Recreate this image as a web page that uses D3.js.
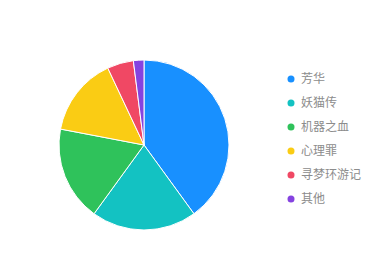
<!DOCTYPE html>
<html>
<head>
<meta charset="utf-8">
<script src="https://cdn.jsdelivr.net/npm/d3@7"></script>
<style>
  body { margin: 0; background: #fff; }
  svg { display: block; font-family: "Noto Sans CJK SC", "Noto Sans", sans-serif; }
</style>
</head>
<body>
<div id="chart"></div>
<script>
// film share data
var categories = ["芳华", "妖猫传", "机器之血", "心理罪", "寻梦环游记", "其他"];
var values = [40, 20, 18, 15, 5, 2];
var colors = ["#1890FF", "#13C2C2", "#2FC25B", "#FACC14", "#F04864", "#8543E0"];

var width = 375, height = 260;
var svg = d3.select("#chart").append("svg")
  .attr("width", width)
  .attr("height", height);

var data = categories.map(function(c, i) { return {name: c, value: values[i]}; });

var pie = d3.pie().sort(null).value(function(d) { return d.value; });
var arc = d3.arc().innerRadius(0).outerRadius(85);

var g = svg.append("g").attr("transform", "translate(144,145)");

g.selectAll("path")
  .data(pie(data))
  .enter()
  .append("path")
    .attr("d", arc)
    .attr("fill", function(d, i) { return colors[i]; })
    .attr("stroke", "#fff")
    .attr("stroke-width", 1);

// legend
var y = d3.scalePoint().domain(categories).range([79, 199]);

var legend = svg.append("g").selectAll("g")
  .data(categories)
  .enter()
  .append("g")
    .attr("transform", function(d) { return "translate(291," + y(d) + ")"; });

legend.append("circle")
  .attr("r", 3.5)
  .attr("fill", function(d, i) { return colors[i]; });

legend.append("text")
  .attr("x", 10)
  .attr("dy", "0.35em")
  .attr("font-size", 12)
  .attr("fill", "#8c8c8c")
  .text(function(d) { return d; });
</script>
</body>
</html>
